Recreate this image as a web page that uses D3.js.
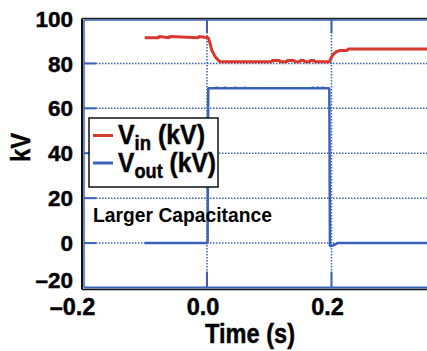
<!DOCTYPE html>
<html><head><meta charset="utf-8">
<script src="https://cdn.jsdelivr.net/npm/d3@7/dist/d3.min.js"></script>
<style>html,body{margin:0;padding:0;background:#fff;overflow:hidden}text{font-family:"Liberation Sans",Arial,sans-serif;font-weight:bold;fill:#000}.heavy{stroke:#000;stroke-width:0.45px}</style>
</head><body>
<svg id="c" width="427" height="351"></svg>
<script>
// ---- data ----
const xTicks = [-0.2, 0.0, 0.2];
const xTickLabels = ["\u20130.2", "0.0", "0.2"];
const yTicks = [-20, 0, 20, 40, 60, 80, 100];
const yTickLabels = ["\u201320", "0", "20", "40", "60", "80", "100"];
const gridY = [0, 20, 40, 60, 80];
const gridX = [0.0, 0.2];
const seriesNames = ["in", "out"];
const vinTime = [-0.1, -0.078, -0.077, -0.061, -0.060, -0.014, -0.013, 0.002, 0.005, 0.0075, 0.013, 0.018, 0.021,
  0.104, 0.105, 0.116, 0.117, 0.128, 0.129, 0.140, 0.141, 0.149, 0.150, 0.156, 0.157, 0.165, 0.166, 0.172, 0.173,
  0.1965, 0.199, 0.203, 0.208, 0.2125, 0.2245, 0.227, 0.36];
const vinValue = [91.4, 91.4, 92.0, 91.4, 92.0, 91.4, 92.0, 91.4, 88.9, 86.0, 83.0, 81.5, 80.7,
  80.7, 81.3, 81.3, 80.7, 80.7, 81.3, 81.3, 80.7, 80.7, 81.3, 81.3, 80.7, 80.7, 81.3, 81.3, 80.7,
  80.7, 82.3, 84.2, 85.2, 85.7, 85.7, 86.4, 86.4];
const voutTime = [-0.1, 0.001, 0.002, 0.0155, 0.0156, 0.0157, 0.0289, 0.029, 0.0291, 0.0449, 0.045, 0.0451, 0.0609, 0.061, 0.0611,
  0.1699, 0.170, 0.1701, 0.1779, 0.178, 0.1781, 0.1859, 0.186, 0.1861, 0.1965, 0.1975, 0.203, 0.21, 0.36];
const voutValue = [0, 0, 68.9, 68.9, 69.7, 68.9, 68.9, 69.7, 68.9, 68.9, 69.7, 68.9, 68.9, 69.7, 68.9,
  68.9, 69.7, 68.9, 68.9, 69.7, 68.9, 68.9, 69.7, 68.9, 68.9, -1.4, -1.0, 0, 0];
const annotation = "Larger Capacitance";
const xTitle = "Time (s)";
const yTitle = "kV";

// ---- drawing ----
const RED = "#d8392f", BLUE = "#3b62b8";
const svg = d3.select("#c");
const x = d3.scaleLinear().domain([-0.2, 0.36]).range([82.5, 431.1]);
const y = d3.scaleLinear().domain([-20, 100]).range([288, 18.5]);
const L = 84, R = 427, T = 20, B = 287.5;

// dotted grid
svg.append("g").selectAll("line").data(gridY).join("line")
  .attr("x1", L).attr("x2", R).attr("y1", d => y(d)).attr("y2", d => y(d))
  .attr("stroke", BLUE).attr("stroke-width", 1.5).attr("stroke-dasharray", "1.5 1.5");
svg.append("g").selectAll("line").data(gridX).join("line")
  .attr("x1", d => x(d)).attr("x2", d => x(d)).attr("y1", T).attr("y2", B)
  .attr("stroke", BLUE).attr("stroke-width", 1.5).attr("stroke-dasharray", "1.5 1.5");
// solid inward ticks
svg.append("g").selectAll("line").data(gridY).join("line")
  .attr("x1", L).attr("x2", L + 12).attr("y1", d => y(d)).attr("y2", d => y(d))
  .attr("stroke", BLUE).attr("stroke-width", 2);
svg.append("g").selectAll("line").data(gridX).join("line")
  .attr("x1", d => x(d)).attr("x2", d => x(d)).attr("y1", T).attr("y2", T + 13)
  .attr("stroke", BLUE).attr("stroke-width", 2);
svg.append("g").selectAll("line").data(gridX).join("line")
  .attr("x1", d => x(d)).attr("x2", d => x(d)).attr("y1", B - 16).attr("y2", B)
  .attr("stroke", BLUE).attr("stroke-width", 2);

// data lines
const vin = vinTime.map((t, i) => [t, vinValue[i]]);
const vout = voutTime.map((t, i) => [t, voutValue[i]]);
const line = d3.line().x(d => x(d[0])).y(d => y(d[1]));
svg.append("path").attr("d", line(vout)).attr("fill", "none").attr("stroke", BLUE).attr("stroke-width", 2.5).attr("stroke-linejoin", "bevel");
svg.append("path").attr("d", line(vin)).attr("fill", "none").attr("stroke", RED).attr("stroke-width", 3).attr("stroke-linejoin", "bevel");

// frame: blue inner, black outer
svg.append("line").attr("x1", L).attr("x2", L).attr("y1", T).attr("y2", B).attr("stroke", BLUE).attr("stroke-width", 1.5);
svg.append("line").attr("x1", L).attr("x2", R).attr("y1", T).attr("y2", T).attr("stroke", BLUE).attr("stroke-width", 1.5);
svg.append("line").attr("x1", L).attr("x2", R).attr("y1", B).attr("y2", B).attr("stroke", BLUE).attr("stroke-width", 2);
svg.append("line").attr("x1", 82).attr("x2", 82).attr("y1", 18.5).attr("y2", 289.5).attr("stroke", "#111").attr("stroke-width", 2);
svg.append("line").attr("x1", 82).attr("x2", R).attr("y1", 18.5).attr("y2", 18.5).attr("stroke", "#222").attr("stroke-width", 1.5);
svg.append("line").attr("x1", 82).attr("x2", R).attr("y1", 289.5).attr("y2", 289.5).attr("stroke", "#111").attr("stroke-width", 1.5);

// y tick labels
svg.append("g").selectAll("text").data(yTicks).join("text").attr("class", "heavy")
  .attr("x", 73).attr("y", d => Math.min(y(d), 280)).attr("dy", "0.36em")
  .attr("text-anchor", "end").style("font-size", "22.5px")
  .text((d, i) => yTickLabels[i]);
// x tick labels
svg.append("g").selectAll("text").data(xTicks).join("text").attr("class", "heavy")
  .attr("x", d => x(d) - 4 - (d < 0 ? 6 : 0)).attr("y", 315)
  .attr("text-anchor", "middle").style("font-size", "23.5px")
  .text((d, i) => xTickLabels[i]);

// axis titles
svg.append("text").attr("class", "heavy").attr("x", 250).attr("y", 343).attr("text-anchor", "middle")
  .style("font-size", "27px").attr("textLength", 90).attr("lengthAdjust", "spacingAndGlyphs").text(xTitle);
svg.append("text").attr("class", "heavy").attr("transform", "translate(30,147.5) rotate(-90)").attr("text-anchor", "middle")
  .style("font-size", "27px").attr("textLength", 29).attr("lengthAdjust", "spacingAndGlyphs").text(yTitle);

// annotation
svg.append("text").attr("x", 93).attr("y", 221.7).style("font-size", "19.5px")
  .attr("textLength", 179).attr("lengthAdjust", "spacingAndGlyphs").text(annotation);

// legend
const lg = svg.append("g");
lg.append("rect").attr("x", 89).attr("y", 118).attr("width", 129).attr("height", 69)
  .attr("fill", "#fff").attr("stroke", "#111").attr("stroke-width", 1.5);
const legendColors = [RED, BLUE];
const legendBase = [144, 171.5];
const legendLen = [87, 98];
seriesNames.forEach((s, i) => {
  lg.append("line").attr("x1", 93).attr("x2", 113).attr("y1", legendBase[i] - 8.5).attr("y2", legendBase[i] - 8.5)
    .attr("stroke", legendColors[i]).attr("stroke-width", 3);
  const t = lg.append("text").attr("class", "heavy").attr("x", 118).attr("y", legendBase[i]).style("font-size", "27px")
    .attr("textLength", legendLen[i]).attr("lengthAdjust", "spacingAndGlyphs");
  t.append("tspan").text("V");
  t.append("tspan").attr("dy", 6).style("font-size", "20px").text(s);
  t.append("tspan").attr("dy", -6).text(" (kV)");
});
</script>
</body></html>
